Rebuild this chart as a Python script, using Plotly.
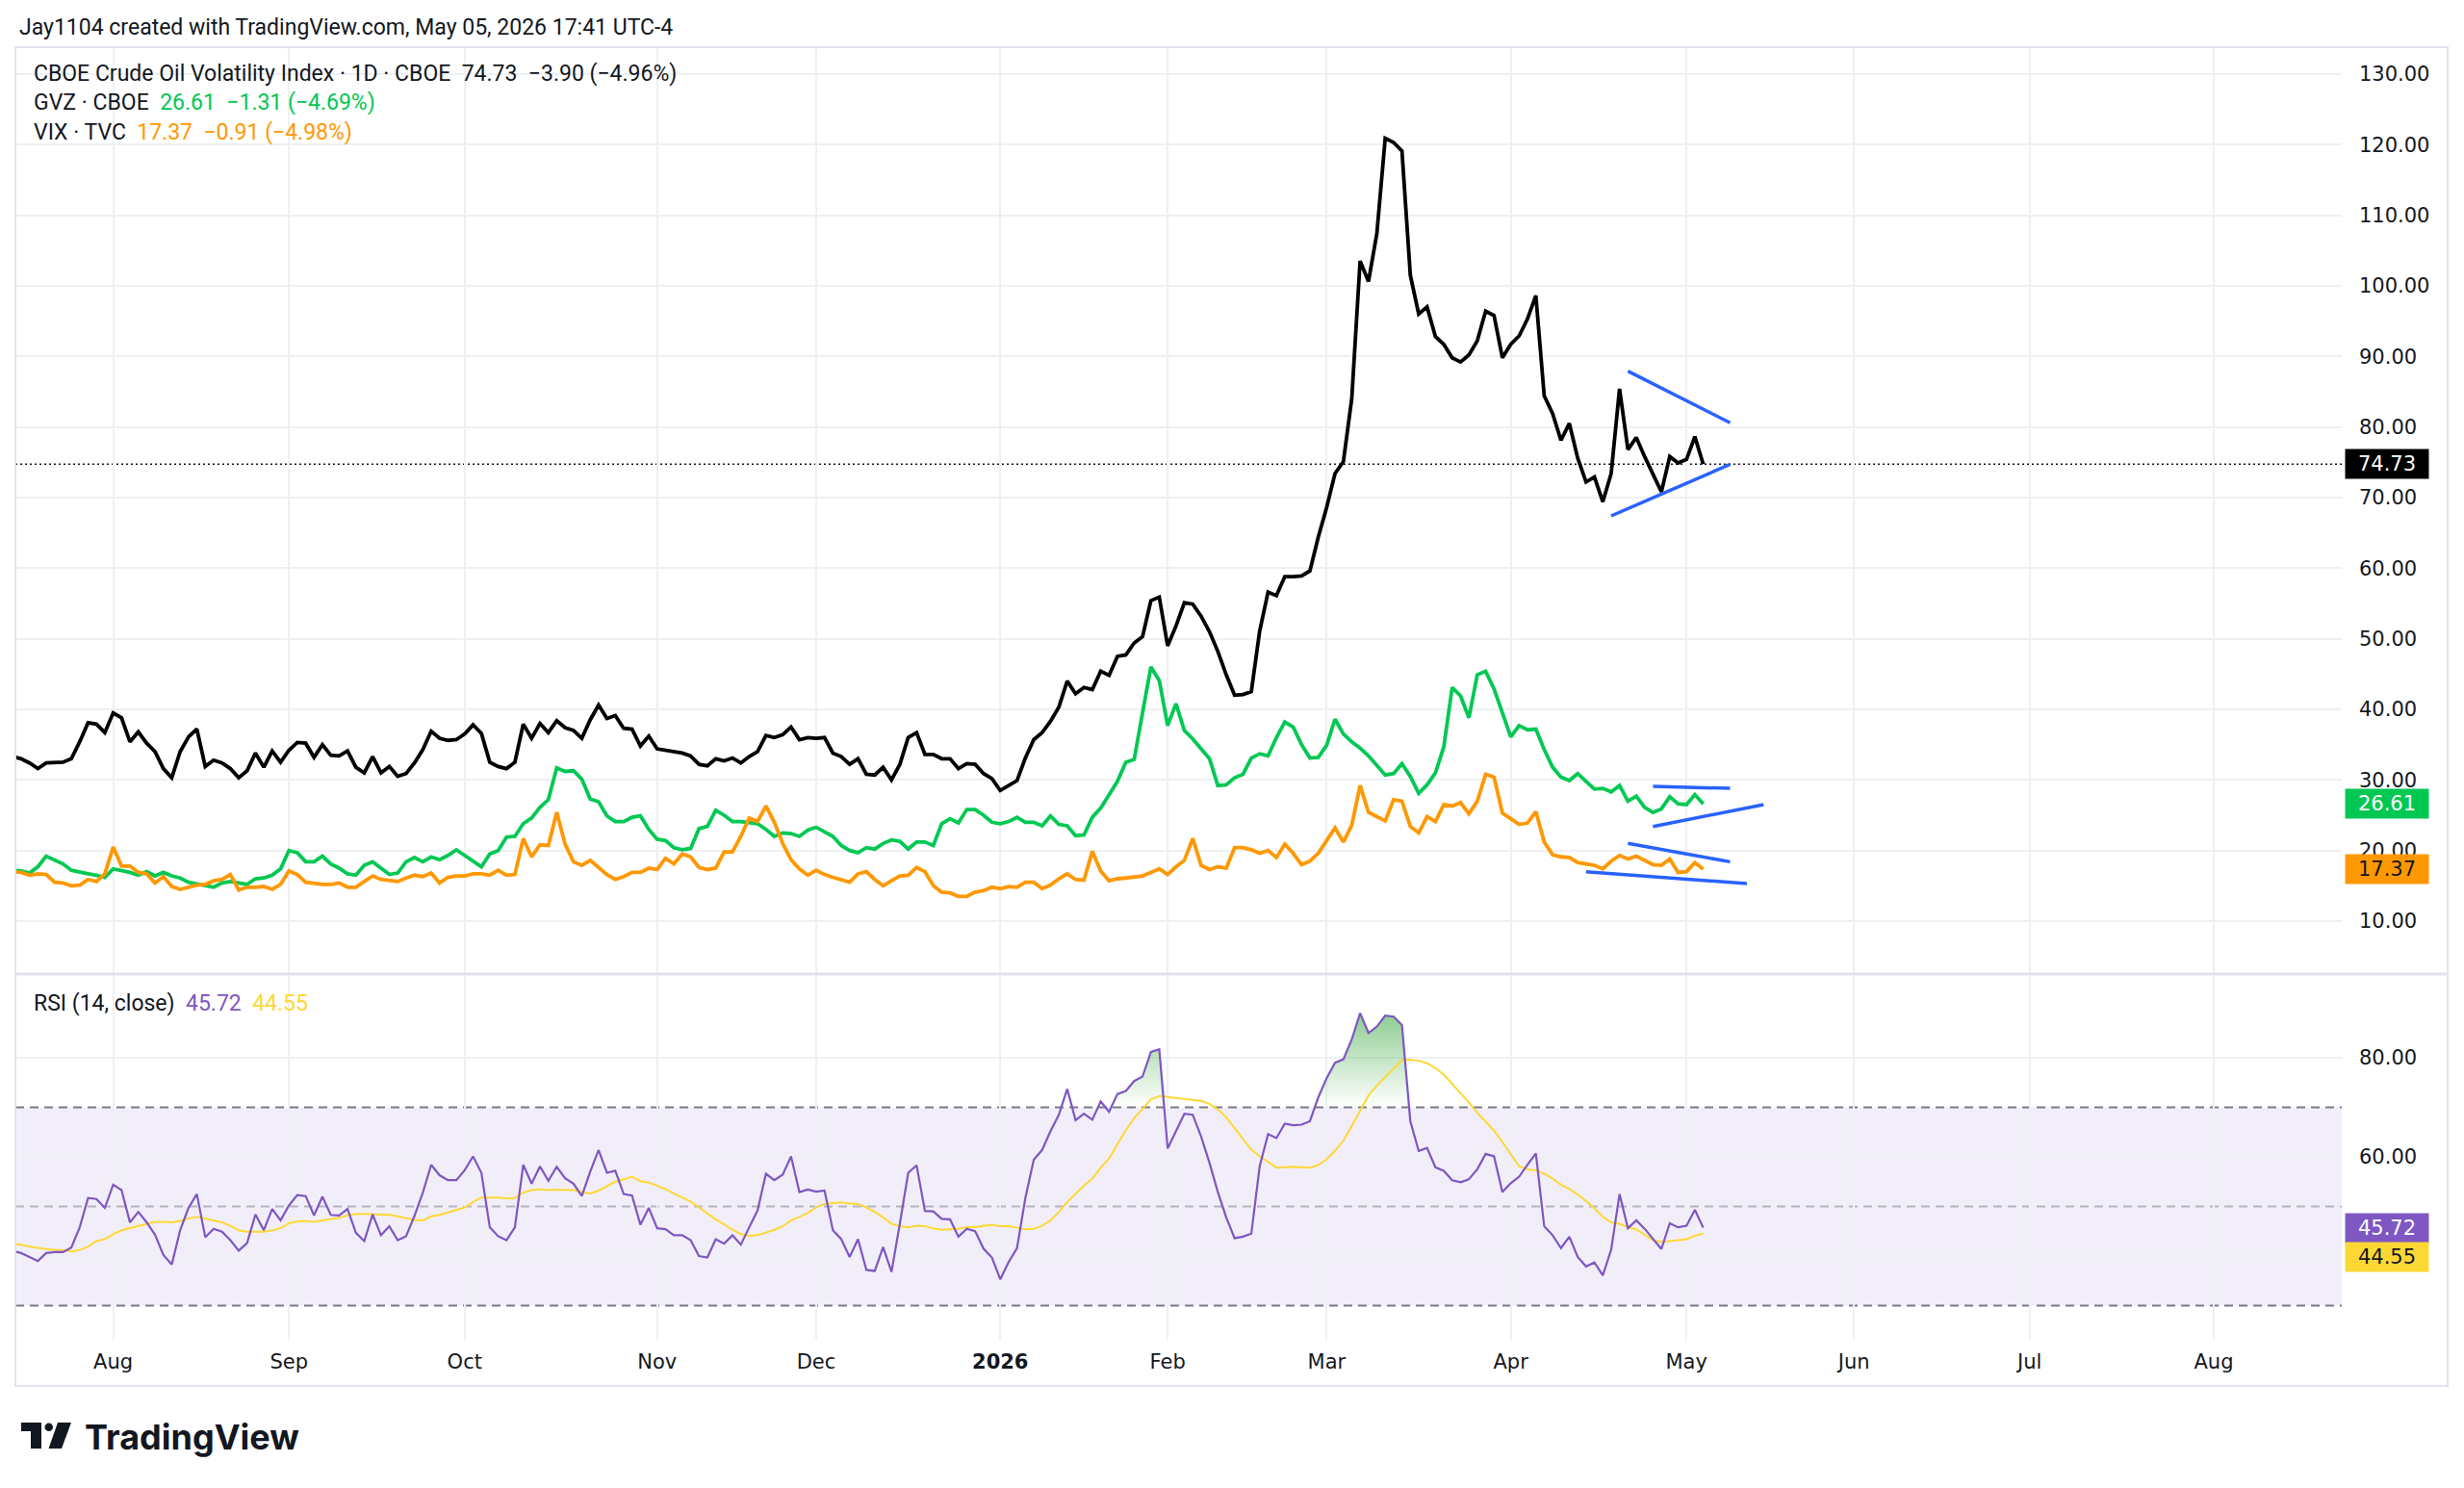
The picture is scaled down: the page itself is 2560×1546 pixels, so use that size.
import pandas as pd
import plotly.graph_objects as go

# Daily closes (Jul 16 2025 .. May 5 2026, CBOE trading days)
holidays = ["2025-09-01", "2025-11-27", "2025-12-25", "2026-01-01",
            "2026-01-19", "2026-02-16", "2026-04-03"]
future_holidays = ["2026-05-25", "2026-06-19", "2026-07-03"]

ovx = [
    33.3, 33.0, 32.4, 31.6, 32.4, 32.5, 32.5, 33.0, 35.4, 38.1,
    37.9, 36.7, 39.5, 38.8, 35.4, 36.8, 35.2, 34.0, 31.6, 30.3,
    34.0, 36.1, 37.2, 31.9, 32.8, 32.4, 31.6, 30.3, 31.3, 33.8,
    31.8, 34.1, 32.5, 34.2, 35.3, 35.2, 33.2, 35.0, 33.5, 33.4,
    34.1, 31.8, 31.0, 33.3, 31.0, 31.9, 30.5, 30.9, 32.4, 34.3,
    36.9, 35.9, 35.6, 35.7, 36.5, 37.8, 36.6, 32.5, 31.9, 31.6,
    32.5, 37.9, 35.9, 38.0, 36.7, 38.4, 37.4, 37.0, 35.9, 38.5,
    40.6, 38.7, 39.1, 37.3, 37.2, 34.8, 36.2, 34.4, 34.2, 33.9,
    33.8, 33.4, 32.2, 32.0, 33.0, 32.7, 33.1, 32.4, 33.3, 34.0,
    36.3, 36.0, 36.4, 37.5, 35.7, 36.0, 35.9, 36.0, 33.8, 33.3,
    32.2, 33.0, 30.8, 30.7, 31.8, 30.0, 32.2, 36.0, 36.7, 33.6,
    33.6, 33.0, 33.0, 31.6, 32.3, 32.2, 30.9, 30.2, 28.5, 29.2,
    29.9, 33.1, 35.7, 36.7, 38.3, 40.3, 44.0, 42.2, 43.1, 42.8,
    45.4, 44.8, 47.5, 47.7, 49.4, 50.3, 55.4, 55.9, 49.0, 51.8,
    55.1, 54.9, 53.2, 51.0, 48.2, 44.9, 42.0, 42.1, 42.5, 51.1,
    56.6, 56.1, 58.8, 58.8, 58.9, 59.6, 64.4, 68.6, 73.4, 75.1,
    84.0, 103.5, 100.6, 107.4, 120.9, 120.3, 119.1, 101.5, 96.0, 97.0,
    92.8, 91.7, 89.8, 89.2, 90.2, 92.2, 96.4, 95.8, 89.8, 91.7,
    92.9, 95.3, 98.6, 84.4, 81.9, 78.1, 80.5, 75.6, 72.2, 72.9,
    69.4, 73.4, 85.4, 76.8, 78.5, 75.8, 73.2, 70.8, 75.8, 74.9,
    75.4, 78.63, 74.73,
]

gvz = [
    17.2, 17.1, 16.8, 17.7, 19.2, 18.7, 18.1, 17.2, 16.9, 16.7,
    16.5, 16.2, 17.4, 17.2, 16.9, 16.5, 17.0, 16.4, 16.9, 16.4,
    16.1, 15.5, 15.3, 15.0, 14.8, 15.4, 15.6, 15.4, 15.2, 16.0,
    16.1, 16.5, 17.4, 20.0, 19.7, 18.4, 18.4, 19.2, 18.1, 17.5,
    16.7, 16.5, 17.9, 18.4, 17.5, 16.6, 16.8, 18.4, 19.0, 18.4,
    19.1, 18.7, 19.3, 20.1, 19.3, 18.5, 17.7, 19.5, 20.0, 21.9,
    22.0, 23.8, 24.6, 26.1, 27.2, 31.7, 31.2, 31.3, 30.1, 27.3,
    26.9, 24.9, 24.1, 24.1, 24.7, 24.9, 23.0, 21.6, 21.4, 20.4,
    20.1, 20.3, 23.1, 23.4, 25.7, 25.0, 24.1, 24.1, 23.9, 23.8,
    23.0, 22.0, 22.5, 22.4, 22.0, 22.9, 23.3, 22.6, 22.0, 20.7,
    20.0, 19.7, 20.4, 20.2, 21.0, 21.5, 21.3, 20.2, 21.2, 21.2,
    20.7, 23.8, 24.5, 23.9, 25.8, 25.8, 25.0, 24.0, 23.8, 24.1,
    24.7, 24.0, 24.0, 23.5, 24.9, 23.7, 23.5, 22.1, 22.2, 24.7,
    26.0, 27.9, 29.8, 32.5, 32.9, 39.5, 46.0, 44.1, 37.7, 40.8,
    37.0, 35.8, 34.3, 33.0, 29.2, 29.3, 30.3, 30.8, 33.1, 33.7,
    33.4, 36.0, 38.2, 37.5, 35.0, 33.1, 33.2, 34.9, 38.6, 36.5,
    35.4, 34.5, 33.4, 32.0, 30.7, 30.9, 32.3, 30.5, 28.1, 29.3,
    31.0, 34.7, 43.1, 41.9, 38.8, 44.9, 45.4, 42.9, 39.4, 36.1,
    37.7, 37.1, 37.2, 34.3, 31.8, 30.4, 29.9, 30.9, 29.8, 28.7,
    28.8, 28.3, 29.2, 27.0, 27.7, 26.1, 25.4, 25.9, 27.6, 26.6,
    26.5, 27.92, 26.61,
]

vix = [
    17.0, 16.9, 16.5, 16.7, 16.6, 15.5, 15.4, 15.0, 15.1, 15.9,
    15.6, 16.7, 20.5, 17.8, 17.8, 16.9, 16.7, 15.4, 16.3, 14.9,
    14.5, 14.8, 15.1, 15.2, 15.7, 15.9, 16.6, 14.4, 14.8, 14.8,
    14.9, 14.5, 15.2, 17.1, 16.6, 15.5, 15.3, 15.2, 15.2, 15.4,
    14.8, 14.8, 15.6, 16.4, 15.9, 15.8, 15.6, 16.1, 16.5, 16.3,
    16.8, 15.4, 16.2, 16.4, 16.4, 16.7, 16.7, 16.5, 17.2, 16.5,
    16.6, 21.7, 19.1, 20.8, 20.7, 25.4, 20.9, 18.4, 17.9, 18.6,
    17.6, 16.6, 15.9, 16.3, 16.9, 16.9, 17.5, 17.3, 18.9, 18.1,
    19.5, 19.1, 17.6, 17.3, 17.5, 19.8, 19.8, 22.0, 24.6, 24.1,
    26.3, 24.0, 21.0, 18.7, 17.4, 16.5, 17.2, 16.6, 16.2, 15.9,
    15.5, 16.7, 17.0, 15.9, 15.0, 15.7, 16.4, 16.5, 17.6, 17.0,
    15.0, 14.1, 14.0, 13.5, 13.5, 14.1, 14.3, 14.8, 14.6, 14.9,
    14.8, 15.5, 15.5, 14.6, 15.1, 16.0, 16.7, 15.9, 15.8, 19.9,
    17.1, 15.7, 16.0, 16.1, 16.3, 16.4, 16.9, 17.4, 16.6, 17.7,
    18.6, 21.7, 17.9, 17.3, 17.7, 17.5, 20.4, 20.4, 20.1, 19.6,
    20.0, 19.0, 20.9, 19.6, 18.0, 18.5, 19.6, 21.3, 23.2, 21.2,
    23.6, 29.2, 25.4, 24.8, 24.2, 27.2, 27.0, 23.4, 22.5, 24.8,
    24.1, 26.5, 26.3, 26.8, 25.2, 27.0, 30.8, 30.4, 25.3, 24.5,
    23.7, 23.9, 25.5, 21.2, 19.4, 19.1, 19.0, 18.3, 18.1, 17.9,
    17.4, 18.5, 19.3, 18.8, 19.2, 18.6, 18.0, 17.9, 18.8, 16.9,
    17.0, 18.28, 17.37,
]

rsi = [
    41.0, 40.6, 39.8, 39.0, 40.6, 40.8, 40.8, 41.7, 45.8, 51.7,
    51.5, 49.7, 54.4, 53.3, 46.8, 48.9, 46.8, 44.3, 40.2, 38.3,
    45.2, 49.7, 52.5, 43.8, 45.5, 44.9, 43.2, 41.1, 42.6, 48.4,
    45.2, 49.5, 47.2, 50.2, 52.3, 52.1, 48.2, 52.0, 48.3, 48.2,
    49.5, 44.7, 43.0, 48.4, 44.2, 46.0, 43.2, 44.0, 48.1, 52.8,
    58.4, 56.3, 55.3, 55.3, 57.3, 60.1, 56.8, 45.8, 44.0, 43.2,
    45.8, 58.4, 54.6, 58.1, 55.2, 58.0, 55.7, 54.6, 52.1, 57.0,
    61.4, 56.8, 57.2, 52.5, 52.2, 46.3, 49.7, 45.6, 45.4, 44.2,
    44.2, 43.2, 40.0, 39.7, 43.4, 42.5, 44.2, 42.3, 45.8, 49.2,
    56.6, 55.3, 56.4, 60.1, 52.9, 53.4, 53.0, 53.2, 45.2, 43.4,
    39.8, 43.4, 37.2, 37.0, 41.8, 36.8, 46.5, 56.8, 58.3, 49.1,
    49.0, 47.5, 47.4, 43.9, 45.5, 45.0, 41.5, 39.7, 35.3, 38.8,
    41.6, 51.7, 59.4, 61.4, 65.2, 68.5, 73.7, 67.4, 68.7, 67.5,
    71.2, 69.1, 72.7, 73.3, 75.3, 76.2, 81.2, 81.7, 61.7, 65.1,
    68.7, 68.5, 64.1, 58.8, 52.9, 47.8, 43.6, 43.9, 44.5, 58.1,
    64.6, 63.8, 66.7, 66.4, 66.5, 67.2, 72.0, 75.9, 79.0, 79.7,
    83.7, 89.0, 85.0, 86.3, 88.5, 88.3, 86.6, 67.2, 61.2, 61.8,
    57.9, 57.2, 55.3, 54.9, 55.5, 57.5, 60.6, 60.1, 52.9, 54.7,
    56.0, 58.4, 60.7, 46.0, 44.2, 41.6, 43.9, 39.8, 37.9, 38.7,
    36.1, 41.3, 52.5, 45.6, 47.2, 45.5, 43.4, 41.4, 46.6, 45.8,
    46.1, 49.3, 45.72,
]

rsi_ma = [
    42.5, 42.3, 41.9, 41.6, 41.4, 41.2, 41.2, 40.9, 41.2, 41.9,
    43.0, 43.4, 44.4, 45.2, 45.6, 46.0, 46.5, 46.9, 46.9, 46.8,
    47.1, 47.6, 47.9, 47.5, 47.1, 46.8, 46.1, 45.2, 44.9, 44.9,
    44.9, 45.2, 45.6, 46.6, 47.0, 47.1, 46.9, 47.2, 47.4, 47.7,
    48.2, 48.5, 48.5, 48.4, 48.4, 48.3, 48.0, 47.6, 47.3, 47.2,
    48.0, 48.3, 48.8, 49.3, 49.8, 50.9, 51.8, 51.8, 51.8, 51.6,
    51.7, 52.8, 53.3, 53.5, 53.3, 53.4, 53.4, 53.3, 52.9, 52.6,
    53.2, 54.1, 55.0, 55.5, 56.0, 55.1, 54.8, 54.2, 53.5, 52.6,
    51.8, 51.0, 49.8, 48.6, 47.4, 46.4, 45.3, 44.4, 44.1, 44.2,
    44.7, 45.3, 46.0, 47.2, 47.9, 48.7, 49.8, 50.5, 50.7, 50.8,
    50.6, 50.5, 49.8, 48.9, 47.8, 46.5, 46.0, 45.8, 46.1, 46.0,
    45.6, 45.3, 45.4, 45.5, 45.8, 45.8, 46.1, 46.3, 46.0, 46.0,
    45.7, 45.4, 45.5, 46.1, 47.2, 48.9, 50.9, 52.6, 54.2, 55.6,
    57.8, 59.7, 62.5, 65.4, 67.8, 69.8, 71.6, 72.3, 72.1, 71.8,
    71.6, 71.5, 71.3, 70.7, 69.6, 68.0, 65.7, 63.6, 61.5, 60.1,
    59.0, 57.8, 57.9, 58.0, 57.9, 57.8, 58.4, 59.5, 61.2, 63.3,
    66.2, 69.3, 72.4, 74.4, 76.1, 77.8, 79.5, 79.6, 79.4, 78.9,
    77.9, 76.6, 74.8, 72.9, 71.0, 68.9, 67.1, 65.3, 63.0, 60.6,
    58.1, 57.5, 57.3, 56.6, 55.6, 54.4, 53.5, 52.4, 51.1, 49.6,
    47.9, 46.8, 46.5, 45.8, 45.4, 44.3, 43.2, 42.8, 43.0, 43.2,
    43.4, 44.1, 44.55,
]

month_ticks = ["2025-08-01", "2025-09-02", "2025-10-01", "2025-11-03", "2025-12-01",
               "2026-01-02", "2026-02-02", "2026-03-02", "2026-04-01", "2026-05-01",
               "2026-06-01", "2026-07-01", "2026-08-03"]
month_labels = ["Aug", "Sep", "Oct", "Nov", "Dec", "<b>2026</b>", "Feb", "Mar",
                "Apr", "May", "Jun", "Jul", "Aug"]

# user drawn trend lines: (date, value) -> (date, value)
trend_lines = [
    (("2026-04-22", 87.9), ("2026-05-08 05:00", 80.6)),
    (("2026-04-20", 67.4), ("2026-05-08 05:00", 74.7)),
    (("2026-04-27", 29.1), ("2026-05-08 05:00", 28.8)),
    (("2026-04-27", 23.4), ("2026-05-14 05:00", 26.5)),
    (("2026-04-22", 21.0), ("2026-05-08 05:00", 18.4)),
    (("2026-04-15", 17.0), ("2026-05-12 05:00", 15.3)),
]

dates = pd.bdate_range("2025-07-16", "2026-05-05", freq="C", holidays=holidays)

# page body keeps its 8px margin, so the figure is a bit smaller than the window
W, H, OFF = 2544, 1530, 8


def fx(px):
    return (px - OFF) / W


def fy(py):
    return 1 - (py - OFF) / H


TXT = "#131722"
GRID = "#EEF0F4"
axis_font = dict(family="DejaVu Sans", size=21, color=TXT)
ui_font = "Roboto"

fig = go.Figure()

# main pane
fig.add_trace(go.Scatter(x=dates, y=ovx, mode="lines", line=dict(color="#000000", width=3.8),
                         xaxis="x", yaxis="y"))
fig.add_trace(go.Scatter(x=dates, y=gvz, mode="lines", line=dict(color="#00C853", width=3.8),
                         xaxis="x", yaxis="y"))
fig.add_trace(go.Scatter(x=dates, y=vix, mode="lines", line=dict(color="#FF9800", width=3.8),
                         xaxis="x", yaxis="y"))
for (d0, v0), (d1, v1) in trend_lines:
    fig.add_trace(go.Scatter(x=[d0, d1], y=[v0, v1], mode="lines",
                             line=dict(color="#2962FF", width=3.5), xaxis="x", yaxis="y"))

# RSI pane, overbought area filled with a fading green
fig.add_trace(go.Scatter(x=dates, y=[70] * len(dates), mode="lines", line=dict(width=0),
                         xaxis="x2", yaxis="y2"))
fig.add_trace(go.Scatter(
    x=dates, y=[max(v, 70) for v in rsi], mode="lines", line=dict(width=0),
    fill="tonexty",
    fillgradient=dict(type="vertical", start=70, stop=100,
                      colorscale=[[0, "rgba(76,175,80,0)"], [1, "rgba(76,175,80,1)"]]),
    xaxis="x2", yaxis="y2"))
fig.add_trace(go.Scatter(x=dates, y=rsi_ma, mode="lines", line=dict(color="#FDD835", width=2),
                         xaxis="x2", yaxis="y2"))
fig.add_trace(go.Scatter(x=dates, y=rsi, mode="lines", line=dict(color="#7E57C2", width=2.2),
                         xaxis="x2", yaxis="y2"))

x_common = dict(
    type="date",
    range=["2025-07-16 07:34", "2026-08-24 07:12"],
    rangebreaks=[dict(bounds=["sat", "mon"]), dict(values=holidays + future_holidays)],
    tickvals=month_ticks, ticktext=month_labels,
    showgrid=True, gridcolor=GRID, gridwidth=2,
    zeroline=False, showline=False, ticks="",
    domain=[fx(16), fx(2433)],
)
y_common = dict(side="right", showgrid=True, gridcolor=GRID, gridwidth=2, zeroline=False,
                showline=False, ticks="", tickformat=".2f", tickfont=axis_font,
                ticklabelstandoff=17)

shapes = [
    # RSI band and levels
    dict(type="rect", xref="x2 domain", x0=0, x1=1, yref="y2", y0=30, y1=70,
         fillcolor="rgba(126,87,194,0.1)", line=dict(width=0), layer="below"),
    dict(type="line", xref="x2 domain", x0=0, x1=1, yref="y2", y0=70, y1=70,
         line=dict(color="#787B86", width=2, dash="9px,6px"), layer="below"),
    dict(type="line", xref="x2 domain", x0=0, x1=1, yref="y2", y0=50, y1=50,
         line=dict(color="rgba(120,123,134,0.5)", width=2, dash="9px,6px"), layer="below"),
    dict(type="line", xref="x2 domain", x0=0, x1=1, yref="y2", y0=30, y1=30,
         line=dict(color="#787B86", width=2, dash="9px,6px"), layer="below"),
    # last price line
    dict(type="line", xref="x domain", x0=0, x1=1, yref="y", y0=ovx[-1], y1=ovx[-1],
         line=dict(color=TXT, width=1.5, dash="2px,3px"), layer="below"),
    # chart frame and pane separator
    dict(type="rect", xref="paper", yref="paper", x0=fx(16), x1=fx(2543), y0=fy(1440), y1=fy(49),
         line=dict(color="#E0E3EB", width=2)),
    dict(type="line", xref="paper", yref="paper", x0=fx(16), x1=fx(2543), y0=fy(1012), y1=fy(1012),
         line=dict(color="#E0E3EB", width=3)),
    # TradingView logo mark
    dict(type="path", xref="paper", yref="paper", fillcolor="#131722", line=dict(width=0),
         path="M {a},{b} L {c},{b} L {c},{d} L {e},{d} L {e},{f} L {a},{f} Z".format(
             a=fx(22), b=fy(1478), c=fx(43), d=fy(1505), e=fx(32), f=fy(1487))),
    dict(type="circle", xref="paper", yref="paper", fillcolor="#131722", line=dict(width=0),
         x0=fx(46.5), x1=fx(55), y0=fy(1487), y1=fy(1478.5)),
    dict(type="path", xref="paper", yref="paper", fillcolor="#131722", line=dict(width=0),
         path="M {a},{t} L {b},{t} L {c},{u} L {d},{u} Z".format(
             a=fx(60), b=fx(74), c=fx(64), d=fx(50.5), t=fy(1478), u=fy(1505))),
]


def badge(text, yref, y, bg, fg, shift=0):
    return dict(text=text, xref="paper", x=fx(2436), xanchor="left", yref=yref, y=y,
                yanchor="middle", yshift=shift, showarrow=False, width=84, height=28,
                align="center", bgcolor=bg, font=dict(family="DejaVu Sans", size=21, color=fg))


def label(text, x, y, size=23, family=ui_font):
    return dict(text=text, xref="paper", yref="paper", x=fx(x), y=fy(y), xanchor="left",
                yanchor="middle", showarrow=False, font=dict(family=family, size=size, color=TXT))


sp = "\u00a0\u00a0"
annotations = [
    label("Jay1104 created with TradingView.com, May 05, 2026 17:41 UTC-4", 18, 29),
    label("CBOE Crude Oil Volatility Index · 1D · CBOE" + sp + "74.73" + sp + "−3.90 (−4.96%)", 33, 77),
    label("GVZ · CBOE" + sp + "<span style='color:#00C853'>26.61" + sp + "−1.31 (−4.69%)</span>", 33, 107),
    label("VIX · TVC" + sp + "<span style='color:#FF9800'>17.37" + sp + "−0.91 (−4.98%)</span>", 33, 137),
    label("RSI (14, close)" + sp + "<span style='color:#7E57C2'>45.72</span>" + sp
          + "<span style='color:#FDD835'>44.55</span>", 33, 1042),
    label("<b>TradingView</b>", 86, 1493, size=36, family="Inter"),
    badge("74.73", "y", ovx[-1], "#000000", "#FFFFFF"),
    badge("26.61", "y", gvz[-1], "#00C853", "#FFFFFF"),
    badge("17.37", "y", vix[-1], "#FF9800", "#131722"),
    badge("45.72", "y2", rsi[-1], "#7E57C2", "#FFFFFF"),
    badge("44.55", "y2", rsi_ma[-1], "#FDD835", "#131722", shift=-24),
]

fig.update_layout(
    width=W, height=H,
    margin=dict(l=0, r=0, t=0, b=0),
    paper_bgcolor="#FFFFFF", plot_bgcolor="#FFFFFF",
    showlegend=False, hovermode=False,
    xaxis=dict(x_common, anchor="y", showticklabels=False),
    xaxis2=dict(x_common, anchor="y2", matches="x", tickfont=axis_font, ticklabelstandoff=8),
    yaxis=dict(y_common, anchor="x", domain=[fy(1012), fy(49)], range=[2.5, 133.8],
               tick0=0, dtick=10),
    yaxis2=dict(y_common, anchor="x2", domain=[fy(1392), fy(1012)], range=[23.1, 96.9],
                tick0=0, dtick=20),
    shapes=shapes,
    annotations=annotations,
)

fig.write_html("out.html")
